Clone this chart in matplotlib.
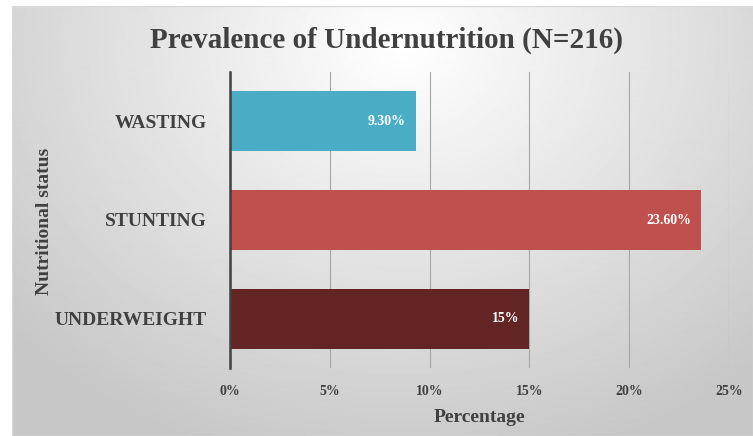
import numpy as np
import matplotlib
matplotlib.use("Agg")
import matplotlib.pyplot as plt

# data
categories = ["UNDERWEIGHT", "STUNTING", "WASTING"]
values = [15.0, 23.6, 9.3]
bar_labels = ["15%", "23.60%", "9.30%"]
bar_colors = ["#632523", "#C0504D", "#4BACC6"]
xticks = [0, 5, 10, 15, 20, 25]
xtick_labels = ["0%", "5%", "10%", "15%", "20%", "25%"]

plt.rcParams["font.family"] = ["Liberation Serif", "DejaVu Serif"]
plt.rcParams["font.weight"] = "bold"
text_col = "#404040"

W, H = 753, 436
fig = plt.figure(figsize=(W / 100, H / 100), dpi=100)
fig.patch.set_facecolor("white")

# panel with radial grey gradient
bg = fig.add_axes([12 / W, 0, (W - 12) / W, (H - 6) / H])
yy, xx = np.mgrid[0:430, 0:741]
cx, cy = 390, 40
r = np.sqrt(((xx - cx) / 520.0) ** 2 + ((yy - cy) / 430.0) ** 2)
g = np.clip(1.0 - 0.22 * r, 0.78, 1.0)
bg.imshow(g, cmap="gray", vmin=0, vmax=1, aspect="auto", interpolation="bilinear")
bg.set_axis_off()
bg.add_patch(plt.Rectangle((0, 0), 1, 1, transform=bg.transAxes, fill=False,
                           edgecolor="#D9D9D9", linewidth=1.0))

ax = fig.add_axes([230 / W, (H - 368) / H, 499 / W, 296 / H])
ax.patch.set_alpha(0)

y = np.arange(len(categories))
bars = ax.barh(y, values, height=0.61, color=bar_colors, zorder=3)
for b, lab in zip(bars, bar_labels):
    ax.text(b.get_width() - 0.5, b.get_y() + b.get_height() / 2, lab,
            ha="right", va="center", color="white", fontsize=10, fontweight="bold", zorder=4)

ax.set_xlim(0, 25)
ax.set_ylim(-0.5, 2.5)
ax.set_xticks(xticks)
ax.set_xticklabels(xtick_labels)
ax.set_yticks(y)
ax.set_yticklabels(categories)
ax.tick_params(axis="x", length=0, pad=12, labelsize=10, labelcolor=text_col)
ax.tick_params(axis="y", length=0, pad=17, labelsize=14, labelcolor=text_col)
ax.grid(axis="x", color="#A6A6A6", linewidth=0.8, zorder=0)
for s in ["top", "right", "bottom"]:
    ax.spines[s].set_visible(False)
ax.spines["left"].set_color(text_col)
ax.spines["left"].set_linewidth(1.8)
ax.spines["left"].set_zorder(5)

ax.set_xlabel("Percentage", fontsize=14, fontweight="bold", color=text_col, labelpad=8)
fig.text(45 / W, 1 - 221 / H, "Nutritional status", rotation=90, ha="center", va="center",
         fontsize=14, fontweight="bold", color=text_col)
fig.text(387 / W, 1 - 40 / H, "Prevalence of Undernutrition (N=216)", ha="center", va="center",
         fontsize=21, fontweight="bold", color=text_col)

fig.savefig("out.png", dpi=100)
